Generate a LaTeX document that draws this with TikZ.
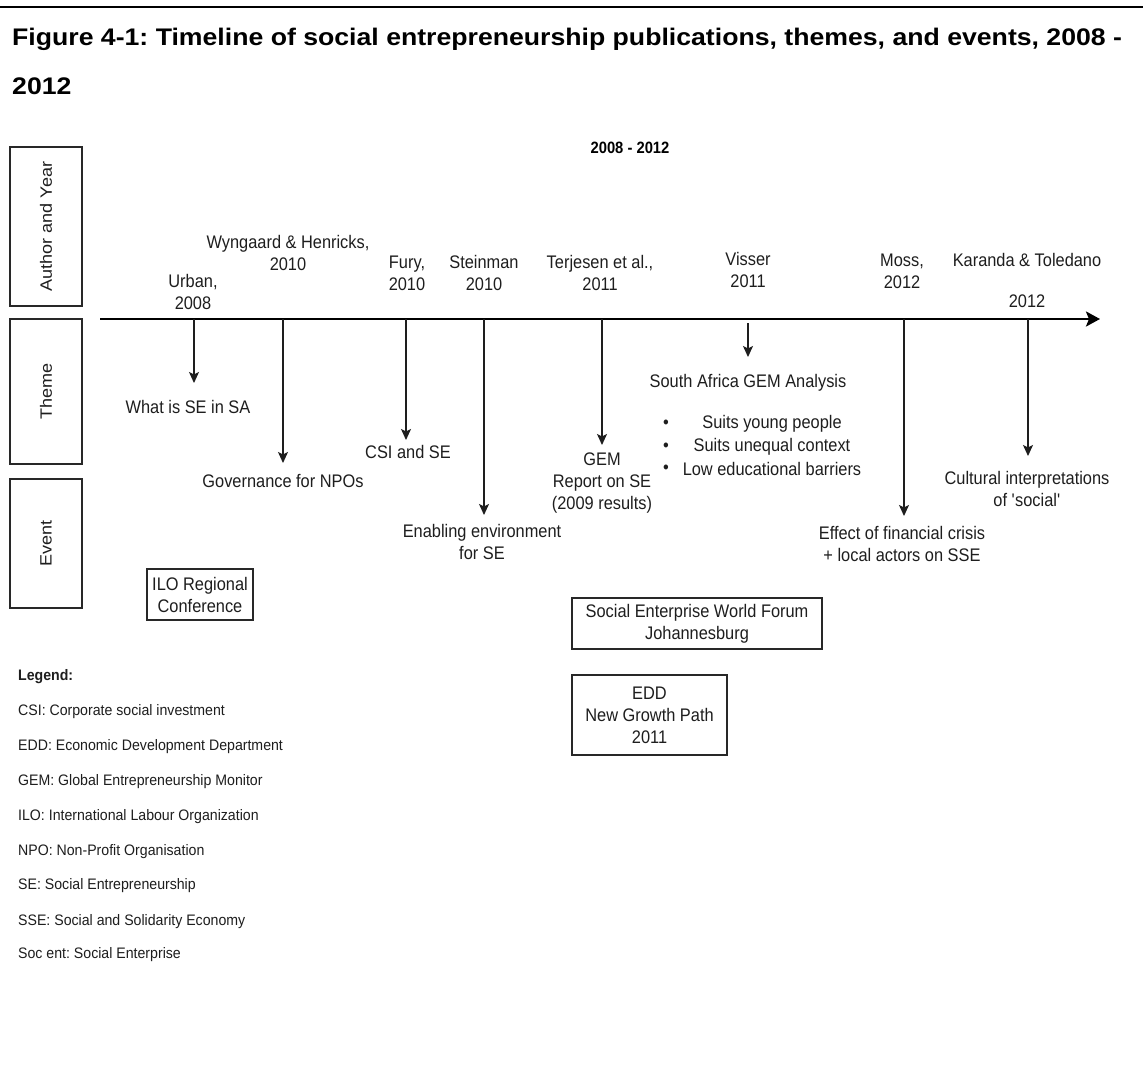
\documentclass[tikz,border=0pt]{standalone}
\usepackage{fontspec}
\setmainfont{Liberation Sans}
\newfontfamily\bodyfam{Liberation Sans}[FakeStretch=0.9]
\newfontfamily\lanefam{Liberation Sans}[FakeStretch=1.1]
\newfontfamily\legfam{Liberation Sans}[FakeStretch=0.93]
\newfontfamily\capfam{Liberation Sans}[FakeStretch=1.11]
\usetikzlibrary{arrows.meta}
\frenchspacing
\definecolor{ink}{RGB}{30,30,30}
\definecolor{frame}{RGB}{40,40,40}
\tikzset{
  lbl/.style={font=\bodyfam\fontsize{18.2}{22}\selectfont, align=center, inner sep=0pt, text=ink},
  yearhead/.style={font=\bodyfam\fontsize{16.4}{20}\selectfont\bfseries, inner sep=0pt, text=black},
  lane/.style={draw=frame, line width=1.4pt, minimum width=72pt, inner sep=0pt},
  lanetext/.style={font=\lanefam\fontsize{16.4}{20}\selectfont, rotate=90, inner sep=0pt, text=ink},
  evbox/.style={draw=frame, line width=1.4pt, inner sep=0pt, lbl},
  drop/.style={draw=ink, line width=1.2pt, -{Stealth[length=11pt,width=10pt,inset=2.5pt]}},
  axisline/.style={draw=black, line width=2.6pt, -{Stealth[length=14pt,width=15pt,inset=3pt]}},
  legline/.style={font=\legfam\fontsize{15.2}{18}\selectfont, anchor=west, inner sep=0pt, text=ink},
  titleline/.style={font=\capfam\fontsize{24}{28}\selectfont\bfseries, anchor=base west, inner sep=0pt, text=black},
}
\begin{document}
\begin{tikzpicture}[x=1pt,y=-1pt]
\useasboundingbox (0,0) rectangle (1143,1088);
\fill[white] (0,0) rectangle (1143,1088);

% page rule and caption
\draw[line width=2.4pt] (0,7) -- (1143,7);
\node[titleline] (cap1) at (12,45) {Figure 4-1: Timeline of social entrepreneurship publications, themes, and events, 2008 -};
\node[titleline] (cap2) at (12,94) {2012};

% period heading
\node[yearhead] (period) at (630,148) {2008 - 2012};

% row labels
\node[lane, minimum height=159pt] (laneA) at (46,226.5) {};
\node[lanetext] (laneAt) at (laneA.center) {Author and Year};
\node[lane, minimum height=145pt] (laneT) at (46,391.5) {};
\node[lanetext] (laneTt) at (laneT.center) {Theme};
\node[lane, minimum height=129pt] (laneE) at (46,543.5) {};
\node[lanetext] (laneEt) at (laneE.center) {Event};

% timeline axis
\coordinate (axs) at (100,319);
\coordinate (axe) at (1100,319);
\draw[axisline] (axs) -- (axe);

% authors and years
\node[lbl] (au1) at (193,292) {Urban,\\2008};
\node[lbl] (au2) at (288,253) {Wyngaard \& Henricks,\\2010};
\node[lbl] (au3) at (407,273) {Fury,\\2010};
\node[lbl] (au4) at (484,273) {Steinman\\2010};
\node[lbl] (au5) at (600,273) {Terjesen et al.,\\2011};
\node[lbl] (au6) at (748,270) {Visser\\2011};
\node[lbl] (au7) at (902,271) {Moss,\\2012};
\node[lbl] (au8) at (1027,280) {Karanda \& Toledano\\[19pt]2012};

% themes
\node[lbl] (th1) at (188,407) {What is SE in SA};
\node[lbl] (th2) at (283,481) {Governance for NPOs};
\node[lbl] (th3) at (408,452) {CSI and SE};
\node[lbl] (th4) at (482,542) {Enabling environment\\for SE};
\node[lbl] (th5) at (602,483) {GEM\\Report on SE\\(2009 results)};
\node[lbl] (th6) at (748,383) {South Africa GEM Analysis};
\node[lbl] (b1) at (772,424) {Suits young people};
\node[lbl] (b2) at (772,447) {Suits unequal context};
\node[lbl] (b3) at (772,469) {Low educational barriers};
\node[lbl] (d1) at (666,424) {\textbullet};
\node[lbl] (d2) at (666,447) {\textbullet};
\node[lbl] (d3) at (666,469) {\textbullet};
\node[lbl] (th7) at (902,544) {Effect of financial crisis\\+ local actors on SSE};
\node[lbl] (th8) at (1027,489) {Cultural interpretations\\of \textquotesingle social\textquotesingle};

% drop points on the axis and arrow tips
\coordinate (x1) at (194,319); \coordinate (t1) at (194,383);
\coordinate (x2) at (283,319); \coordinate (t2) at (283,463);
\coordinate (x3) at (406,319); \coordinate (t3) at (406,440);
\coordinate (x4) at (484,319); \coordinate (t4) at (484,515);
\coordinate (x5) at (602,319); \coordinate (t5) at (602,445);
\coordinate (x6) at (748,323); \coordinate (t6) at (748,357);
\coordinate (x7) at (904,319); \coordinate (t7) at (904,516);
\coordinate (x8) at (1028,319); \coordinate (t8) at (1028,456);
\foreach \i in {1,...,8} { \draw[drop] (x\i) -- (t\i); }

% events
\node[evbox, minimum width=106pt, minimum height=51pt] (ev1) at (200,594.5) {ILO Regional\\Conference};
\node[evbox, minimum width=250pt, minimum height=51pt] (ev2) at (697,623.5) {Social Enterprise World Forum\\Johannesburg};
\node[evbox, minimum width=155pt, minimum height=80pt] (ev3) at (649.5,715) {EDD\\New Growth Path\\2011};

% legend
\node[legline, font=\legfam\fontsize{15.2}{18}\selectfont\bfseries] (lg0) at (18,677) {Legend:};
\node[legline] (lg1) at (18,712) {CSI: Corporate social investment};
\node[legline] (lg2) at (18,747) {EDD: Economic Development Department};
\node[legline] (lg3) at (18,782) {GEM: Global Entrepreneurship Monitor};
\node[legline] (lg4) at (18,817) {ILO: International Labour Organization};
\node[legline] (lg5) at (18,852) {NPO: Non-Profit Organisation};
\node[legline] (lg6) at (18,886) {SE: Social Entrepreneurship};
\node[legline] (lg7) at (18,922) {SSE: Social and Solidarity Economy};
\node[legline] (lg8) at (18,955) {Soc ent: Social Enterprise};
\end{tikzpicture}
\end{document}
